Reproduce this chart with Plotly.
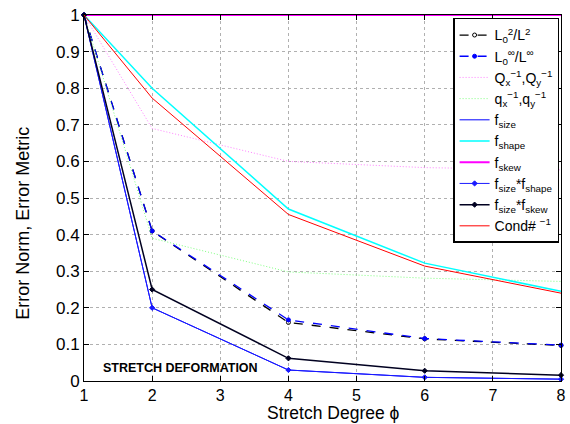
import plotly.graph_objects as go

x = [1, 2, 4, 6, 8]
L2 = [1, 0.41, 0.160, 0.115, 0.097]
Linf = [1, 0.41, 0.167, 0.116, 0.098]
Q = [1, 0.69, 0.600, 0.583, 0.577]
q = [1, 0.39, 0.298, 0.281, 0.272]
fsize = [1, 0.20, 0.030, 0.010, 0.005]
fshape = [1, 0.80, 0.470, 0.322, 0.245]
fskew = [1, 1, 1, 1, 1]
fsize_shape = [1, 0.20, 0.030, 0.010, 0.005]
fsize_skew = [1, 0.25, 0.062, 0.028, 0.016]
cond = [1, 0.773, 0.455, 0.314, 0.240]

x_ticks = [1, 2, 3, 4, 5, 6, 7, 8]
y_ticks = [0, 0.1, 0.2, 0.3, 0.4, 0.5, 0.6, 0.7, 0.8, 0.9, 1]
y_ticktext = ["0", "0.1", "0.2", "0.3", "0.4", "0.5", "0.6", "0.7", "0.8", "0.9", "1"]

names = ["L<sub>0</sub><sup>2</sup>/L<sup>2</sup>",
         "L<sub>0</sub><sup>∞</sup>/L<sup>∞</sup>",
         "Q<sub>x</sub><sup>−1</sup>,Q<sub>y</sub><sup>−1</sup>",
         "q<sub>x</sub><sup>−1</sup>,q<sub>y</sub><sup>−1</sup>",
         "f<sub>size</sub>",
         "f<sub>shape</sub>",
         "f<sub>skew</sub>",
         "f<sub>size</sub>*f<sub>shape</sub>",
         "f<sub>size</sub>*f<sub>skew</sub>",
         "Cond# <sup>−1</sup>"]

fig = go.Figure()
specs = [
    (L2, "#000000", "dash", 1.3, "circle-open", 4),
    (Linf, "#0000ff", "dash", 1.3, "circle", 4),
    (Q, "#ff80ff", "1px,2px", 1, None, 0),
    (q, "#80ff80", "1px,2px", 1, None, 0),
    (fsize, "#0000ff", "solid", 1, None, 0),
    (fshape, "#00ffff", "solid", 1.5, None, 0),
    (fskew, "#ff00ff", "solid", 2, None, 0),
    (fsize_shape, "#1a1aff", "solid", 1, "diamond", 4),
    (fsize_skew, "#000020", "solid", 1.5, "diamond", 4),
    (cond, "#ff0000", "solid", 1, None, 0),
]
for (ys, col, dash, w, sym, ms), nm in zip(specs, names):
    if sym:
        fig.add_trace(go.Scatter(x=x, y=ys, name=nm, mode="lines+markers",
                                 line=dict(color=col, dash=dash, width=w),
                                 marker=dict(symbol=sym, size=ms, color=col,
                                             line=dict(color=col, width=1)),
                                 cliponaxis=False))
    else:
        fig.add_trace(go.Scatter(x=x, y=ys, name=nm, mode="lines",
                                 line=dict(color=col, dash=dash, width=w),
                                 cliponaxis=False))

fig.add_annotation(x=1.25, y=0.036, text="<b>STRETCH DEFORMATION</b>", showarrow=False,
                   xanchor="left", yanchor="middle", font=dict(size=12.5, color="black"))
fig.add_annotation(xref="paper", yref="paper", x=0.5228, y=-0.1175,
                   text="Stretch Degree ϕ", showarrow=False, xanchor="center", yanchor="bottom",
                   borderpad=0, font=dict(size=17.5, color="black"))
fig.add_annotation(xref="paper", yref="paper", x=-0.1286, y=0.4317, textangle=-90,
                   text="Error Norm, Error Metric", showarrow=False, xanchor="center", yanchor="middle",
                   borderpad=0, font=dict(size=18, color="black"))

axis_common = dict(showline=True, linecolor="black", linewidth=1, mirror="ticks",
                   ticks="inside", ticklen=5, tickcolor="black",
                   showgrid=True, gridcolor="#b0b0b0", griddash="dot", gridwidth=1,
                   zeroline=False, ticklabeloverflow="allow")
fig.update_xaxes(range=[1, 8], tickvals=x_ticks, tickfont=dict(size=16, color="black"), **axis_common)
fig.update_yaxes(range=[0, 1], tickvals=y_ticks, ticktext=y_ticktext,
                 tickfont=dict(size=17, color="black"), **axis_common)

fig.update_layout(width=570, height=424, margin=dict(l=84, r=4, t=15, b=43),
                  paper_bgcolor="white", plot_bgcolor="white",
                  font=dict(family="Liberation Sans, Arial, sans-serif", color="black"),
                  legend=dict(x=0.996, y=0.992, xanchor="right", yanchor="top",
                              bgcolor="white", bordercolor="black", borderwidth=1.5,
                              font=dict(size=14), tracegroupgap=0, itemwidth=30))
fig.write_html("out.html")
